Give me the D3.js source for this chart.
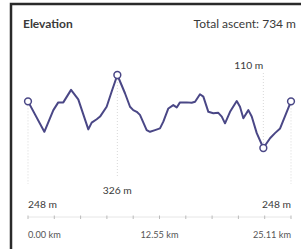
<!DOCTYPE html>
<meta charset="utf-8">
<style>
    body { margin: 0; background: #fff; }
    text { font-family: Lato, "Open Sans", sans-serif; }
    .title { font-size: 12px; fill: #3a3a3a; }
    .label { font-size: 10.3px; fill: #3a3a3a; }
    .tick-label { font-size: 9.2px; fill: #555; }
    .line { fill: none; stroke: #4a4786; stroke-width: 2px; stroke-linejoin: round; }
    .guide { stroke: #d8d8d8; stroke-width: 1px; stroke-dasharray: 1,2; }
</style>
<svg id="f" width="301" height="249"></svg>
<script src="https://cdn.jsdelivr.net/npm/d3@7"></script>
<script>
    // distance along the route (km) and elevation (m)
    var dist = [0, 1.56, 2.42, 2.89, 3.37, 4.11, 4.80, 5.76, 6.08, 6.56, 6.88, 7.51, 7.99, 8.53,
        9.26, 9.74, 10.05, 10.38, 10.69, 11.33, 11.65, 12.13, 12.60, 12.92, 13.40, 13.87, 14.20,
        14.51, 15.15, 15.63, 15.95, 16.42, 16.74, 17.22, 17.69, 18.17, 18.50, 18.81, 19.29, 19.93,
        20.24, 20.56, 21.04, 21.36, 21.84, 22.47, 23.11, 23.58, 24.07, 25.11];
    var elev = [248, 158, 222, 245, 245, 282, 254, 165, 185, 195, 203, 232, 277, 326,
        272, 232, 222, 217, 208, 163, 158, 163, 168, 188, 227, 237, 230,
        245, 245, 244, 247, 269, 262, 217, 213, 214, 203, 183, 217, 249,
        232, 198, 222, 203, 154, 110, 139, 154, 168, 248];
    var xTicks = [0, 2.511, 5.022, 7.533, 10.044, 12.555, 15.066, 17.577, 20.088, 22.599, 25.11];
    var xTickLabels = ["0.00 km", "12.55 km", "25.11 km"];
    var totalAscent = 734;

    var svg = d3.select("#f");

    var x = d3.scaleLinear().domain([0, 25.11]).range([28, 291]),
        y = d3.scaleLinear().domain([110, 326]).range([148, 75]);

    var data = dist.map(function (d, i) { return { km: d, m: elev[i] }; });

    // frame
    svg.append("rect")
        .attr("x", 11).attr("y", 4)
        .attr("width", 320).attr("height", 260)
        .attr("fill", "none")
        .attr("stroke", "#2a2a2a")
        .attr("stroke-width", 2.5);

    svg.append("text").attr("class", "title")
        .attr("x", 23).attr("y", 28)
        .style("font-weight", "bold")
        .text("Elevation");

    svg.append("text").attr("class", "title")
        .attr("x", 296).attr("y", 28)
        .attr("text-anchor", "end")
        .text("Total ascent: " + totalAscent + " m");

    // marker points: start, max, min, end
    var iMax = d3.maxIndex(data, d => d.m),
        iMin = d3.minIndex(data, d => d.m);
    var marks = [
        { d: data[0], anchor: "start", y0: y(data[0].m) + 4, y1: 184, ly: 208 },
        { d: data[iMax], anchor: "middle", y0: y(data[iMax].m) + 4, y1: 178, ly: 194 },
        { d: data[iMin], anchor: "end", y0: 73, y1: y(data[iMin].m) - 4, ly: 69 },
        { d: data[data.length - 1], anchor: "end", y0: y(data[data.length - 1].m) + 4, y1: 184, ly: 208 }
    ];

    svg.selectAll(".guide")
        .data(marks)
        .enter().append("line")
        .attr("class", "guide")
        .attr("x1", m => x(m.d.km)).attr("x2", m => x(m.d.km))
        .attr("y1", m => m.y0).attr("y2", m => m.y1);

    var line = d3.line()
        .x(function (d) { return x(d.km); })
        .y(function (d) { return y(d.m); });

    svg.append("path")
        .datum(data)
        .attr("class", "line")
        .attr("d", line);

    svg.selectAll(".pt")
        .data(marks)
        .enter().append("circle")
        .attr("class", "pt")
        .attr("cx", m => x(m.d.km))
        .attr("cy", m => y(m.d.m))
        .attr("r", 3.4)
        .attr("fill", "#fff")
        .attr("stroke", "#4a4786")
        .attr("stroke-width", 1.5);

    svg.selectAll(".label")
        .data(marks)
        .enter().append("text")
        .attr("class", "label")
        .attr("x", m => x(m.d.km))
        .attr("y", m => m.ly)
        .attr("text-anchor", m => m.anchor)
        .text(m => m.d.m + " m");

    // distance axis
    var axisY = 217;
    svg.append("line")
        .attr("x1", x(0)).attr("x2", x(25.11))
        .attr("y1", axisY).attr("y2", axisY)
        .attr("stroke", "#e6e6e6");

    svg.selectAll(".tick")
        .data(xTicks)
        .enter().append("line")
        .attr("class", "tick")
        .attr("x1", d => x(d)).attr("x2", d => x(d))
        .attr("y1", axisY - 1.5).attr("y2", axisY + 2)
        .attr("stroke", "#bbb");

    svg.selectAll(".tick-label")
        .data([0, 5, 10])
        .enter().append("text")
        .attr("class", "tick-label")
        .attr("x", i => x(xTicks[i]))
        .attr("y", 238)
        .attr("text-anchor", (i, j) => ["start", "middle", "end"][j])
        .text((i, j) => xTickLabels[j]);
</script>
